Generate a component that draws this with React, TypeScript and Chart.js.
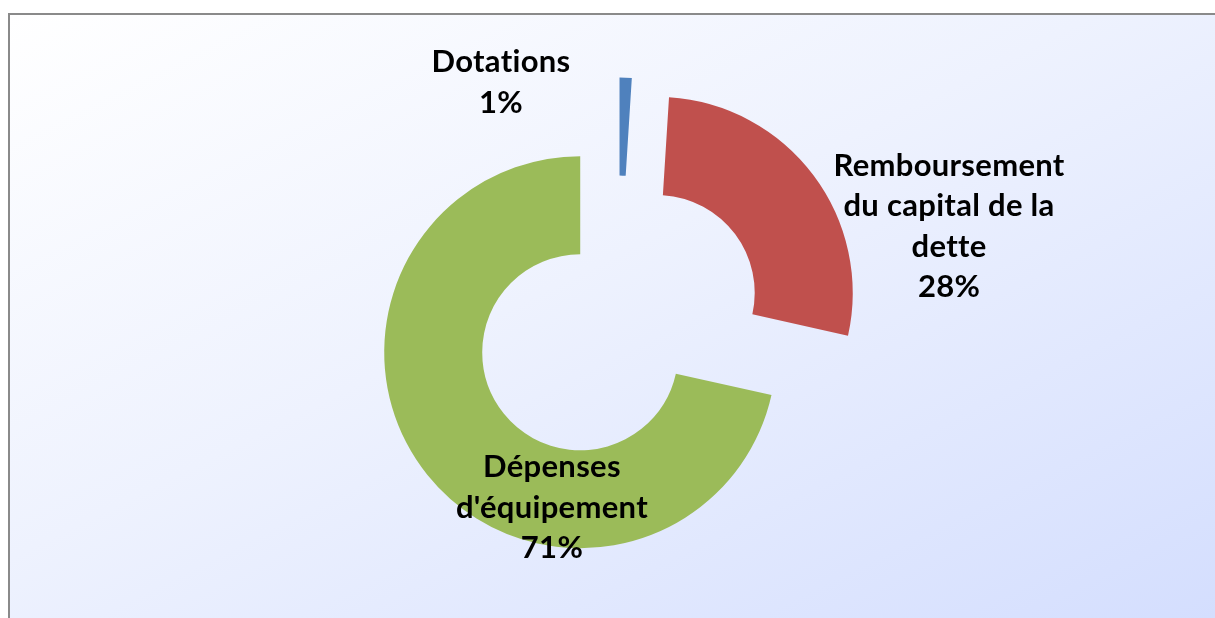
import React, { useEffect, useRef } from "react";
import { Chart, registerables, ArcElement } from "chart.js";

Chart.register(...registerables);

const categories: string[][] = [
  ["Dotations"],
  ["Remboursement", "du capital de la", "dette"],
  ["Dépenses", "d'équipement"],
];
const values: number[] = [1.0, 27.5, 71.5];
const percentLabels: string[] = ["1%", "28%", "71%"];
const colors: string[] = ["#4F81BD", "#C0504D", "#9BBB59"];

// layout constants (label block centre relative to doughnut centre, in outer-radius units)
const LABEL_POS: [number, number][] = [
  [-0.597, -1.222],
  [1.689, -0.487],
  [-0.337, 0.947],
];
const EXPLODE = 0.247; // explosion distance as fraction of outer radius
const FONT = "bold 31px Lato";
const LINE_H = 40.5;

const explodePlugin = {
  id: "explode",
  beforeDatasetDraw(chart: any, args: any) {
    args.meta.data.forEach((arc: any) => {
      if (arc.__exploded) return;
      const orig = ArcElement.prototype.draw;
      arc.draw = function (ctx: CanvasRenderingContext2D) {
        const half = (this.startAngle + this.endAngle) / 2;
        const d = EXPLODE * this.outerRadius;
        ctx.save();
        ctx.translate(Math.cos(half) * d, Math.sin(half) * d);
        orig.call(this, ctx);
        ctx.restore();
      };
      arc.__exploded = true;
    });
  },
};

const labelPlugin = {
  id: "sliceLabels",
  afterDatasetsDraw(chart: any) {
    const meta = chart.getDatasetMeta(0);
    const ctx: any = chart.ctx;
    ctx.save();
    ctx.font = FONT;
    try {
      ctx.letterSpacing = "0.3px";
    } catch (e) {}
    ctx.fillStyle = "#000000";
    ctx.textAlign = "center";
    ctx.textBaseline = "middle";
    meta.data.forEach((arc: any, i: number) => {
      const R = arc.outerRadius;
      const cx = arc.x + LABEL_POS[i][0] * R;
      const cy = arc.y + LABEL_POS[i][1] * R;
      const lines = [...categories[i], percentLabels[i]];
      const top = cy - ((lines.length - 1) * LINE_H) / 2;
      lines.forEach((t, k) => ctx.fillText(t, cx, top + k * LINE_H));
    });
    ctx.restore();
  },
};

export default function App() {
  const ref = useRef<HTMLCanvasElement>(null);
  useEffect(() => {
    if (!ref.current) return;
    const chart = new Chart(ref.current, {
      type: "doughnut",
      data: {
        labels: categories.map((c) => c.join(" ")),
        datasets: [
          {
            data: values,
            backgroundColor: colors,
            borderWidth: 0,
          },
        ],
      },
      options: {
        responsive: false,
        animation: false,
        radius: 196,
        cutout: "50%",
        rotation: 0,
        layout: { padding: { left: 11, top: 11, right: 0, bottom: 0 } },
        plugins: {
          legend: { display: false },
          tooltip: { enabled: false },
        },
      } as any,
      plugins: [explodePlugin, labelPlugin],
    });
    return () => chart.destroy();
  }, []);
  return (
    <div
      style={{
        position: "absolute",
        left: 8,
        top: 13,
        width: 1205,
        height: 603,
        borderTop: "2px solid #8a8a8a",
        borderLeft: "2px solid #8a8a8a",
        background: "linear-gradient(to bottom right, #ffffff 0%, #eef2fe 45%, #d4defe 100%)",
        overflow: "hidden",
      }}
    >
      <canvas ref={ref} width={1205} height={603} style={{ display: "block" }} />
    </div>
  );
}
